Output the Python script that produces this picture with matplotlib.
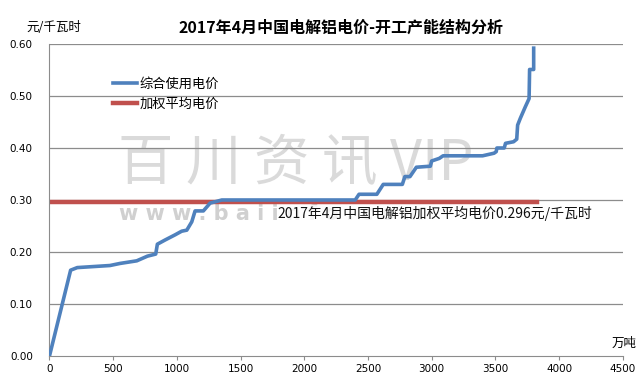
import matplotlib.pyplot as plt

plt.rcParams['font.family'] = ['Noto Sans CJK SC', 'DejaVu Sans']

# 综合使用电价曲线 (累计产能 万吨, 电价 元/千瓦时)
capacity = [0, 166, 218, 475, 554, 685, 769, 834, 847, 907, 986, 1038, 1078,
            1117, 1143, 1208, 1261, 1353, 2400, 2430, 2570, 2620, 2770, 2790,
            2830, 2880, 2990, 3000, 3060, 3090, 3400, 3490, 3507, 3512, 3570,
            3580, 3643, 3668, 3675, 3696, 3735, 3765, 3769, 3801, 3801]
price = [0.000, 0.165, 0.170, 0.174, 0.178, 0.183, 0.192, 0.196, 0.215, 0.223,
         0.233, 0.240, 0.242, 0.258, 0.279, 0.279, 0.294, 0.300, 0.300, 0.311,
         0.311, 0.330, 0.330, 0.345, 0.345, 0.363, 0.365, 0.375, 0.380, 0.385,
         0.385, 0.390, 0.393, 0.400, 0.400, 0.409, 0.412, 0.417, 0.444, 0.457,
         0.479, 0.495, 0.551, 0.551, 0.592]

avg_price = 0.296
avg_x = [0, 3830]

x_ticks = [0, 500, 1000, 1500, 2000, 2500, 3000, 3500, 4000, 4500]
y_ticks = [0.0, 0.1, 0.2, 0.3, 0.4, 0.5, 0.6]

fig = plt.figure(figsize=(6.4, 3.88), dpi=100)
ax = fig.add_axes([0.0773, 0.0825, 0.8957, 0.8041])

# 水印
ax.text(0.43, 0.615, '百 川 资 讯 VIP', transform=ax.transAxes, ha='center', va='center',
        fontsize=40, color='#dadada', zorder=0)
ax.text(0.121, 0.455, 'w w w . b a i i n f o . c o m', transform=ax.transAxes,
        ha='left', va='center', fontsize=15, fontweight='bold', color='#d0d0d0',
        family='DejaVu Sans', zorder=0)

for yv in y_ticks[1:]:
    ax.axhline(yv, color='#8c8c8c', linewidth=0.9, zorder=1)

ax.plot(capacity, price, color='#4F81BD', linewidth=2.6, label='综合使用电价',
        solid_joinstyle='round', zorder=3)
ax.plot(avg_x, [avg_price, avg_price], color='#C0504D', linewidth=3.2,
        label='加权平均电价', zorder=2)

ax.text(1790, 0.275, '2017年4月中国电解铝加权平均电价0.296元/千瓦时', ha='left', va='center',
        fontsize=10, color='#111111', zorder=4,
        bbox=dict(facecolor='white', edgecolor='none', alpha=0.75, pad=0.5))

ax.set_xlim(0, 4500)
ax.set_ylim(0, 0.6)
ax.set_xticks(x_ticks)
ax.set_yticks(y_ticks)
ax.set_xticklabels([str(v) for v in x_ticks], family='DejaVu Sans', fontsize=7.5)
ax.set_yticklabels(['%.2f' % v for v in y_ticks], family='DejaVu Sans', fontsize=7.5)
ax.tick_params(axis='y', length=0, pad=12)
ax.tick_params(axis='x', length=3, direction='out', color='#8c8c8c', pad=3)

for side in ['top', 'right']:
    ax.spines[side].set_visible(False)
ax.spines['left'].set_color('#8c8c8c')
ax.spines['bottom'].set_color('#8c8c8c')

fig.text(0.533, 0.928, '2017年4月中国电解铝电价-开工产能结构分析', ha='center', va='center',
         fontsize=11.5, fontweight='bold')
fig.text(0.042, 0.928, '元/千瓦时', ha='left', va='center', fontsize=9)
fig.text(0.956, 0.115, '万吨', ha='left', va='center', fontsize=9)

ax.legend(loc='upper left', bbox_to_anchor=(0.1, 0.913), frameon=False, fontsize=9.5,
          handlelength=1.8, handletextpad=0.15, labelspacing=0.55, borderpad=0)

fig.savefig('out.png', dpi=100)
